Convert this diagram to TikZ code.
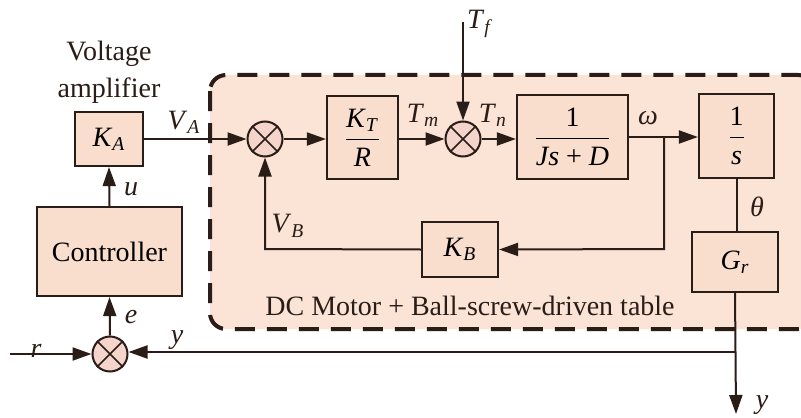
\documentclass[tikz,border=0pt]{standalone}
\usepackage{fontspec}
\setmainfont{Liberation Serif}
\usetikzlibrary{arrows.meta}
\definecolor{lc}{HTML}{2A1C17}
\definecolor{boxfill}{HTML}{F9DECE}
\definecolor{regfill}{HTML}{FBE4D6}
\definecolor{sumfill}{HTML}{F4D4CB}
\newcommand\vsub[2]{\textit{#1}\textsubscript{\textit{#2}}}
\tikzset{
  blk/.style={draw=lc, fill=boxfill, line width=1.1pt, inner sep=0pt, font=\fontsize{14}{16}\selectfont},
  sumnode/.style={circle, draw=lc, fill=sumfill, line width=1pt, minimum size=17.5pt, inner sep=0pt},
  sig/.style={draw=lc, line width=1pt},
  arr/.style={sig, -{Triangle[length=9.5pt,width=6.5pt]}},
  lab/.style={font=\fontsize{14}{16}\selectfont, inner sep=0pt, text=lc},
  region/.style={draw=lc, fill=regfill, line width=2pt, dash pattern=on 10pt off 6pt, rounded corners=8pt}
}
\begin{document}
\begin{tikzpicture}[x=0.5pt,y=-0.5pt]
\useasboundingbox (0,0) rectangle (801,417);
\fill[white] (0,0) rectangle (801,417);
% region
\draw[region] (210,75) rectangle (814,329);
\node[lab] (dclab) at (470,306) {DC Motor + Ball-screw-driven table};
% blocks
\node[blk, minimum width=34pt, minimum height=27pt] (ka) at (109,139) {\vsub{K}{A}};
\node[blk, minimum width=72.5pt, minimum height=44.5pt] (ctrl) at (109.5,251.5) {Controller};
\node[lab, align=center, font=\fontsize{14}{18.5}\selectfont] (vlab) at (109,72) {Voltage\\amplifier};
\node[blk, minimum width=35.5pt, minimum height=41.5pt] (ktr) at (362.5,137.5) {$\displaystyle\frac{\hbox{\vsub{K}{T}}}{\hbox{\textit{R}}}$};
\node[blk, minimum width=55.5pt, minimum height=42pt] (plant) at (572.5,137) {$\displaystyle\frac{\hbox{1}}{\hbox{\textit{Js} + \textit{D}}}$};
\node[blk, minimum width=37.5pt, minimum height=42pt] (integ) at (736.5,136) {$\displaystyle\frac{\hbox{1}}{\hbox{\textit{s}}}$};
\node[blk, minimum width=43pt, minimum height=30pt] (gr) at (735,262) {\vsub{G}{r}};
\node[blk, minimum width=38pt, minimum height=27.5pt] (kb) at (460,249.5) {\vsub{K}{B}};
% sums
\node[sumnode] (s0) at (110,354) {};
\node[sumnode] (s1) at (265,139) {};
\node[sumnode] (s2) at (463,139) {};
\foreach \s in {s0,s1,s2}{
  \draw[lc, line width=0.8pt] (\s.north west) -- (\s.south east) (\s.north east) -- (\s.south west);
}
% coordinates
\coordinate (rin) at (10,354);
\coordinate (tftop) at (463,22);
\coordinate (wbr) at (664,137);
\coordinate (wdn) at (664,249);
\coordinate (vbc) at (265,249);
\coordinate (ybr) at (736,352);
\coordinate (yout) at (736,414);
% connectors
\draw[arr] (rin) -- (s0.west);
\draw[arr] (s0.north) -- (ctrl.south);
\draw[arr] (ctrl.north) -- (ka.south);
\draw[arr] (ka.east |- s1.west) -- (s1.west);
\draw[arr] (s1.east) -- (ktr.west |- s1.east);
\draw[arr] (ktr.east |- s2.west) -- (s2.west);
\draw[arr] (tftop) -- (s2.north);
\draw[arr] (s2.east) -- (plant.west |- s2.east);
\draw[arr] (plant.east) -- (integ.west |- plant.east);
\draw[arr] (wbr) -- (wdn) -- (kb.east);
\draw[arr] (kb.west) -- (vbc) -- (s1.south);
\draw[sig] (integ.south) -- (integ.south |- gr.north);
\draw[arr] (gr.south) -- (yout);
\draw[arr] (ybr) -- (s0.east |- ybr);
% labels
\node[lab] (lr) at (36,351) {\textit{r}};
\node[lab] (ly) at (177,340) {\textit{y}};
\node[lab] (le) at (131,317) {\textit{e}};
\node[lab] (lu) at (131,189) {\textit{u}};
\node[lab] (lva) at (184,122) {\vsub{V}{A}};
\node[lab] (lvb) at (288,226) {\vsub{V}{B}};
\node[lab] (ltm) at (423,115) {\vsub{T}{m}};
\node[lab] (ltn) at (493,115) {\vsub{T}{n}};
\node[lab] (ltf) at (480,24) {\vsub{T}{f}};
\node[lab] (lw) at (648,118) {\textit{ω}};
\node[lab] (lth) at (757,207) {\textit{θ}};
\node[lab] (lyo) at (762,405) {\textit{y}};
\end{tikzpicture}
\end{document}
